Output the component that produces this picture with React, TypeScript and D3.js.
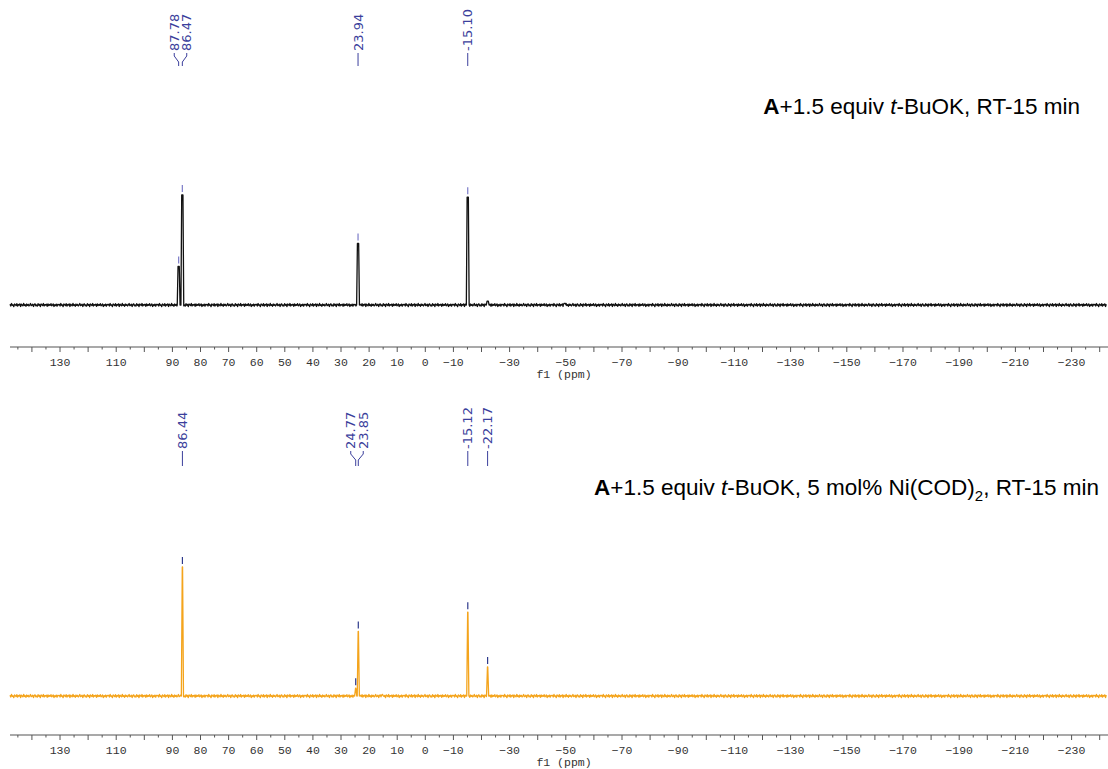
import React from "react";
import * as d3 from "d3";

// ---------- data ----------
const PPM_DOMAIN = [147.8, -242.6];
const TICK_LABELS = [130, 110, 90, 80, 70, 60, 50, 40, 30, 20, 10, 0, -10, -30, -50, -70, -90, -110, -130, -150, -170, -190, -210, -230];

// top spectrum: A + 1.5 equiv t-BuOK, RT-15 min
const topPeakPpm = [87.78, 86.47, 23.94, -15.1, -22.2, -49.6];
const topPeakHeight = [35, 100, 56, 98, 3.5, 1.5];
const topLabelGroups = [[87.78, 86.47], [23.94], [-15.1]];

// bottom spectrum: + 5 mol% Ni(COD)2
const botPeakPpm = [86.44, 24.77, 23.85, 15.3, -15.12, -22.17];
const botPeakHeight = [100, 6, 50, 1.2, 65, 22.5];
const botLabelGroups = [[86.44], [24.77, 23.85], [-15.12], [-22.17]];

// hand-read baseline noise pattern (intensity units)
const NOISE = [0.4, -0.6, 0.9, -0.2, 0.1, -1.0, 0.6, 0.2, -0.4, 0.8, -0.7, 0.3, -0.1, 0.7, -0.9, 0.5, 0.0, -0.5, 1.0, -0.3, 0.2, -0.8, 0.6, -0.2, 0.4, -0.6, 0.1, 0.9, -0.4, -0.1, 0.5, -0.9, 0.3, 0.7, -0.5, 0.0, -0.7, 0.8, -0.2, 0.4, -1.0, 0.6, 0.1, -0.3, 0.9, -0.6, 0.2, -0.1, 0.5, -0.8, 0.7, -0.4, 0.3, -0.2, 0.8, -0.5, 0.0, 0.6, -0.9, 0.2, -0.3, 0.5, -0.7, 0.4, 0.1];

const fmt = (v: number) => v.toFixed(2);
const minus = (v: number) => (v < 0 ? "\u2212" + Math.abs(v) : String(v));

type Pt = { ppm: number; v: number };

function buildSeries(ppms: number[], heights: number[], w: number, wTop: number, noiseAmp: number): Pt[] {
  const pts: Pt[] = [];
  const step = 0.27;
  let i = 0;
  for (let p = PPM_DOMAIN[0]; p >= PPM_DOMAIN[1]; p -= step, i++) {
    if (ppms.some((q) => Math.abs(p - q) <= w)) continue;
    pts.push({ ppm: p, v: NOISE[i % NOISE.length] * noiseAmp });
  }
  ppms.forEach((q, k) => {
    const h = heights[k];
    pts.push({ ppm: q + w, v: 0 });
    if (wTop > 0) {
      pts.push({ ppm: q + wTop, v: h });
      pts.push({ ppm: q - wTop, v: h });
    } else {
      pts.push({ ppm: q, v: h });
    }
    pts.push({ ppm: q - w, v: 0 });
  });
  pts.sort((a, b) => b.ppm - a.ppm);
  return pts;
}

const W = 1108;
const H = 769;

export default function App() {
  const x = d3.scaleLinear().domain(PPM_DOMAIN).range([10, 1107]);

  const panels = [
    {
      baseline: 305,
      top: 195,
      axisY: 347,
      color: "#111111",
      strokeW: 1.3,
      markerColor: "#7b7bc8",
      ppms: topPeakPpm,
      heights: topPeakHeight,
      groups: topLabelGroups,
      textEnd: 51,
      lineEnd: 66,
      w: 0.5,
      wTop: 0.22,
      noiseAmp: 1.5,
    },
    {
      baseline: 696,
      top: 567,
      axisY: 735,
      color: "#f4a41c",
      strokeW: 1.3,
      markerColor: "#2e3a8c",
      ppms: botPeakPpm,
      heights: botPeakHeight,
      groups: botLabelGroups,
      textEnd: 449,
      lineEnd: 466,
      w: 0.38,
      wTop: 0.05,
      noiseAmp: 1.3,
    },
  ];

  const majorTicks = d3.range(140, -241, -10);
  const minorTicks = d3.range(145, -241, -10);

  return (
    <svg width={W} height={H} style={{ position: "absolute", left: 0, top: 0, background: "#fff" }}>
      {panels.map((pn, pi) => {
        const y = d3.scaleLinear().domain([0, 100]).range([pn.baseline, pn.top]);
        const series = buildSeries(pn.ppms, pn.heights, pn.w, pn.wTop, pn.noiseAmp);
        const line = d3
          .line<Pt>()
          .x((d) => x(d.ppm))
          .y((d) => y(d.v));
        const labelled = pn.groups.flat();
        return (
          <g key={pi}>
            {/* spectrum */}
            <path d={line(series) || ""} fill="none" stroke={pn.color} strokeWidth={pn.strokeW} strokeLinejoin="round" />
            {/* peak markers */}
            {labelled.map((p) => {
              const k = pn.ppms.indexOf(p);
              const yt = y(pn.heights[k]);
              return <line key={"m" + p} x1={x(p)} x2={x(p)} y1={yt - 3} y2={yt - 10} stroke={pn.markerColor} strokeWidth={1.2} />;
            })}
            {/* peak labels */}
            {pn.groups.map((g, gi) => {
              const cx = d3.mean(g.map((p) => x(p))) as number;
              const spacing = 12.5;
              return g.map((p, j) => {
                const xl = cx + (j - (g.length - 1) / 2) * spacing;
                const xp = x(p);
                const y1 = pn.textEnd + 2;
                const path =
                  g.length === 1
                    ? `M${xl},${y1}L${xl},${pn.lineEnd}`
                    : `M${xl},${y1}L${xl},${y1 + 3}L${xp},${y1 + 9}L${xp},${pn.lineEnd}`;
                return (
                  <g key={"l" + gi + "-" + j}>
                    <path d={path} fill="none" stroke="#3b3f9c" strokeWidth={1} />
                    <text
                      transform={`translate(${xl},${pn.textEnd}) rotate(-90)`}
                      textAnchor="start"
                      dominantBaseline="central"
                      fontFamily="'DejaVu Sans', sans-serif"
                      fontSize={13}
                      fill="#3b3f9c"
                    >
                      {fmt(p)}
                    </text>
                  </g>
                );
              });
            })}
            {/* axis */}
            <line x1={10} x2={1108} y1={pn.axisY} y2={pn.axisY} stroke="#555" strokeWidth={1.2} />
            {majorTicks.map((t) => (
              <line key={"M" + t} x1={x(t)} x2={x(t)} y1={pn.axisY} y2={pn.axisY + 5} stroke="#555" strokeWidth={1} />
            ))}
            {minorTicks.map((t) => (
              <line key={"m" + t} x1={x(t)} x2={x(t)} y1={pn.axisY} y2={pn.axisY + 2.5} stroke="#555" strokeWidth={1} />
            ))}
            {TICK_LABELS.map((t) => (
              <text
                key={"t" + t}
                x={x(t)}
                y={pn.axisY + 19}
                textAnchor="middle"
                fontFamily="'Liberation Mono', monospace"
                fontSize={11.5}
                fill="#333"
              >
                {minus(t)}
              </text>
            ))}
            <text x={564} y={pn.axisY + 31} textAnchor="middle" fontFamily="'Liberation Mono', monospace" fontSize={11.5} fill="#333">
              f1 (ppm)
            </text>
          </g>
        );
      })}

      {/* legends */}
      <text x={1080} y={114} textAnchor="end" fontFamily="'Liberation Sans', Arial, sans-serif" fontSize={22.5} fill="#000">
        <tspan fontWeight="bold">A</tspan>
        <tspan>+1.5 equiv </tspan>
        <tspan fontStyle="italic">t</tspan>
        <tspan>-BuOK, RT-15 min</tspan>
      </text>
      <text x={1099} y={495} textAnchor="end" fontFamily="'Liberation Sans', Arial, sans-serif" fontSize={22.5} fill="#000">
        <tspan fontWeight="bold">A</tspan>
        <tspan>+1.5 equiv </tspan>
        <tspan fontStyle="italic">t</tspan>
        <tspan>-BuOK, 5 mol% Ni(COD)</tspan>
        <tspan fontSize={15} dy={6}>2</tspan>
        <tspan dy={-6}>, RT-15 min</tspan>
      </text>
    </svg>
  );
}
